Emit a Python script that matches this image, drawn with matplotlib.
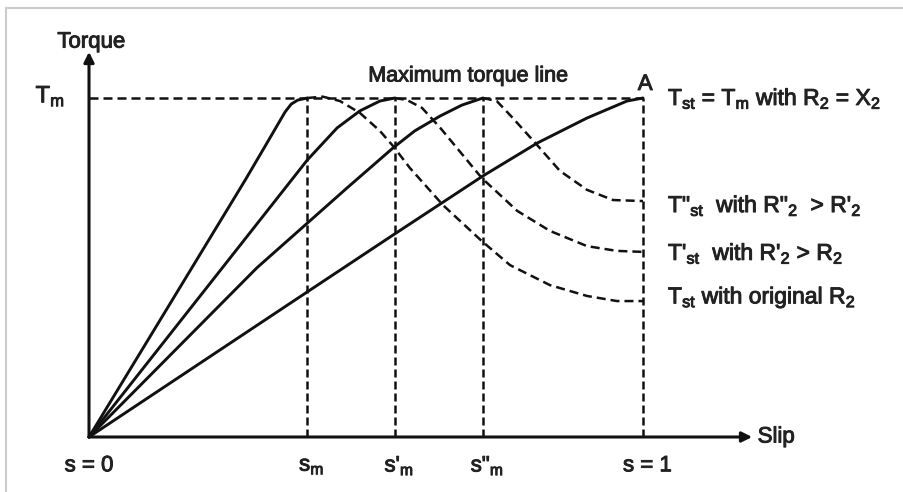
import matplotlib
matplotlib.use("Agg")
import matplotlib.pyplot as plt
import matplotlib.patheffects as pe
from matplotlib.patches import Rectangle

plt.rcParams["font.family"] = ["Liberation Sans", "DejaVu Sans"]
plt.rcParams["mathtext.fontset"] = "custom"
plt.rcParams["mathtext.rm"] = "Liberation Sans"

# -------------------- Data (slip, torque as fraction of Tm) -------------------- #

# Slip values where maximum torque occurs
slip_marks = [0.394, 0.552, 0.711, 1.0]
slip_labels = ["s$_\\mathregular{m}$", "s'$_\\mathregular{m}$", 's"$_\\mathregular{m}$', "s = 1"]

# original R2 : solid (rising) and dashed (falling) parts
orig_up_s = [0.0, 0.282, 0.314, 0.339, 0.354, 0.365, 0.377, 0.394]
orig_up_t = [0.0, 0.758, 0.847, 0.917, 0.959, 0.982, 0.994, 1.0]
orig_dn_s = [0.394, 0.422, 0.453, 0.489, 0.525, 0.549, 0.579, 0.639, 0.709,
             0.760, 0.832, 0.899, 0.953, 1.0]
orig_dn_t = [1.0, 1.004, 0.991, 0.956, 0.903, 0.858, 0.794, 0.684, 0.578,
             0.507, 0.448, 0.416, 0.401, 0.401]

# R'2 > R2
r1_up_s = [0.0, 0.394, 0.448, 0.489, 0.525, 0.552]
r1_up_t = [0.0, 0.817, 0.912, 0.962, 0.991, 1.0]
r1_dn_s = [0.552, 0.574, 0.601, 0.634, 0.709, 0.773, 0.832, 0.899, 0.953, 1.0]
r1_dn_t = [1.0, 0.994, 0.971, 0.912, 0.764, 0.667, 0.608, 0.563, 0.549, 0.546]

# R"2 > R'2
r2_up_s = [0.0, 0.303, 0.466, 0.549, 0.588, 0.634, 0.673, 0.711]
r2_up_t = [0.0, 0.499, 0.735, 0.853, 0.903, 0.947, 0.979, 1.0]
r2_dn_s = [0.711, 0.736, 0.765, 0.809, 0.850, 0.899, 0.946, 1.0]
r2_dn_t = [1.0, 0.991, 0.941, 0.861, 0.785, 0.729, 0.699, 0.696]

# R2 = X2 (Tst = Tm)
r3_up_s = [0.0, 0.394, 0.549, 0.711, 0.809, 0.899, 0.971, 1.0]
r3_up_t = [0.0, 0.428, 0.596, 0.770, 0.867, 0.941, 0.991, 1.0]

right_labels = [
    "T$_\\mathregular{st}$ = T$_\\mathregular{m}$ with R$_\\mathregular{2}$ = X$_\\mathregular{2}$",
    'T"$_\\mathregular{st}$  with R"$_\\mathregular{2}$  > R\'$_\\mathregular{2}$',
    "T'$_\\mathregular{st}$  with R'$_\\mathregular{2}$ > R$_\\mathregular{2}$",
    "T$_\\mathregular{st}$ with original R$_\\mathregular{2}$",
]
right_label_t = [1.0, 0.684, 0.543, 0.413]

# -------------------- Plot -------------------- #

W, H = 904, 492
X0, Y0 = 89, 437          # origin in pixels
SX, SY = 554, 339         # pixels per unit slip / torque

fig = plt.figure(figsize=(W / 100, H / 100), dpi=100)
ax = fig.add_axes([0, 0, 1, 1])
ax.set_xlim(-X0 / SX, (W - X0) / SX)
ax.set_ylim(-(H - Y0) / SY, Y0 / SY)
ax.axis("off")

# grey frame of the picture
fig.patches.append(Rectangle((6 / W, -0.1), 1.2, 1 - 8 / H + 0.1,
                             transform=fig.transFigure, fill=False,
                             edgecolor="#cccccc", lw=1.5))

ink = "#111111"
solid = dict(color=ink, lw=2.1, solid_capstyle="round", solid_joinstyle="round")
dashed = dict(color=ink, lw=1.8, dashes=(3.6, 2.0))
vdash = dict(color=ink, lw=1.8, dashes=(3.2, 1.6))

# maximum torque line and slip guides
ax.plot([0, 1.0], [1.0, 1.0], **dashed)
for s in slip_marks:
    ax.plot([s, s], [0, 1.0], **vdash)

# curves
ax.plot(orig_up_s, orig_up_t, **solid)
ax.plot(orig_dn_s, orig_dn_t, **dashed)
ax.plot(r1_up_s, r1_up_t, **solid)
ax.plot(r1_dn_s, r1_dn_t, **dashed)
ax.plot(r2_up_s, r2_up_t, **solid)
ax.plot(r2_dn_s, r2_dn_t, **dashed)
ax.plot(r3_up_s, r3_up_t, **solid)

# axes with arrows
arrow = dict(arrowstyle="-|>", color=ink, lw=2.2, mutation_scale=15,
             shrinkA=0, shrinkB=0)
ax.annotate("", xy=(1.197, 0), xytext=(0, 0), arrowprops=arrow)
ax.annotate("", xy=(0, 1.136), xytext=(0, 0), arrowprops=arrow)

fs = 16
tc = "#222222"
heavy = [pe.withStroke(linewidth=0.7, foreground=tc)]
txt = dict(color=tc, va="center", path_effects=heavy)
ax.text(0.004, 1.165, "Torque", fontsize=fs, ha="center", **txt)
ax.text(-0.070, 1.006, "T$_\\mathregular{m}$", fontsize=fs + 1, ha="center", **txt)
ax.text(0.684, 1.065, "Maximum torque line", fontsize=15.5, ha="center", **txt)
ax.text(1.004, 1.04, "A", fontsize=fs, ha="center", **txt)
ax.text(1.207, 0.0, "Slip", fontsize=fs, ha="left", **txt)
ax.text(0.0, -0.085, "s = 0", fontsize=fs, ha="center", **txt)
for s, lab in zip(slip_marks, slip_labels):
    ax.text(s + 0.008, -0.085, lab, fontsize=fs, ha="center", **txt)
for t, lab in zip(right_label_t, right_labels):
    ax.text(1.045, t, lab, fontsize=16.5, ha="left", **txt)

fig.savefig("out.png", dpi=100)
